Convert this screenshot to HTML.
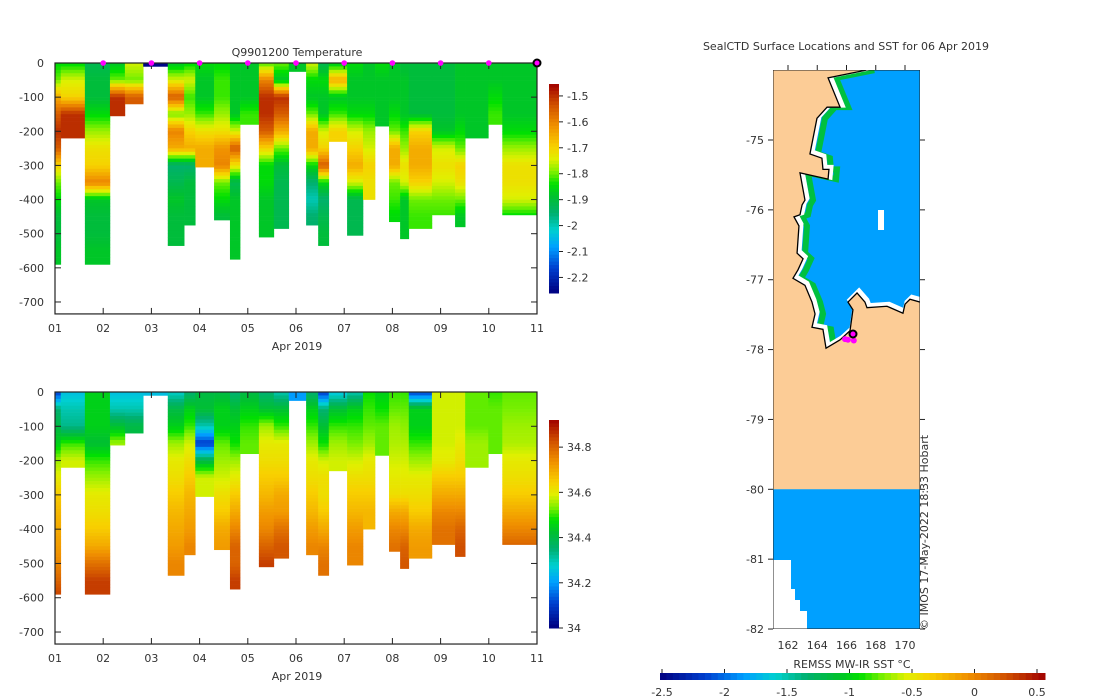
<!DOCTYPE html>
<html><head><meta charset="utf-8"><style>
body{margin:0;background:#fff;}
svg{display:block;font-family:"DejaVu Sans","Liberation Sans",sans-serif;}
text{fill:#333;font-size:11px;}
</style></head><body>
<svg id="chart" width="1100" height="700" viewBox="0 0 1100 700"></svg>
<script>
// ---- data ----
const edges=[1.00,1.12,1.62,2.14,2.45,2.83,3.34,3.68,3.91,4.30,4.63,4.84,5.23,5.54,5.85,6.21,6.46,6.68,7.06,7.39,7.64,7.93,8.16,8.34,8.82,9.30,9.51,9.99,10.28,11.0];
const maxDepth=[590,220,590,155,120,10,535,475,305,460,575,180,510,485,25,475,535,230,505,400,185,465,515,485,445,480,220,180,445];
const sampleDepths=[0,50,100,150,200,250,300,350,400,450,500,550,600];
const temps=[
[-1.85,-1.8,-1.65,-1.55,-1.5,-1.55,-1.7,-1.8,-1.85,-1.9,-1.9,-1.88,-1.88],
[-1.85,-1.75,-1.7,-1.5,-1.5],
[-1.92,-1.9,-1.9,-1.85,-1.78,-1.72,-1.7,-1.6,-1.88,-1.9,-1.9,-1.88,-1.88],
[-1.88,-1.8,-1.5,-1.5],
[-1.75,-1.8,-1.55],
[-2.25],
[-1.88,-1.75,-1.55,-1.8,-1.6,-1.65,-1.95,-1.92,-1.88,-1.9,-1.9],
[-1.85,-1.75,-1.82,-1.78,-1.7,-1.65,-1.95,-1.9,-1.9,-1.9],
[-1.85,-1.88,-1.88,-1.82,-1.72,-1.65,-1.65],
[-1.85,-1.82,-1.82,-1.78,-1.72,-1.62,-1.6,-1.8,-1.85,-1.9],
[-1.88,-1.88,-1.88,-1.88,-1.75,-1.55,-1.72,-1.92,-1.88,-1.88,-1.88,-1.88],
[-1.88,-1.88,-1.88,-1.82],
[-1.82,-1.6,-1.5,-1.5,-1.55,-1.7,-1.85,-1.85,-1.88,-1.88,-1.88],
[-1.8,-1.88,-1.5,-1.55,-1.65,-1.8,-1.9,-1.92,-1.92,-1.92],
[-1.88],
[-1.75,-1.85,-1.88,-1.8,-1.65,-1.65,-1.85,-1.95,-2.0,-1.95],
[-1.92,-1.85,-1.88,-1.88,-1.75,-1.7,-1.55,-1.85,-1.95,-1.92,-1.9],
[-1.88,-1.65,-1.88,-1.82,-1.7],
[-1.85,-1.88,-1.88,-1.85,-1.75,-1.7,-1.65,-1.75,-1.92,-1.92,-1.92],
[-1.88,-1.88,-1.88,-1.85,-1.78,-1.75,-1.7,-1.72,-1.72],
[-1.85,-1.88,-1.88,-1.88],
[-1.88,-1.88,-1.88,-1.85,-1.8,-1.65,-1.65,-1.8,-1.82,-1.85],
[-1.9,-1.88,-1.88,-1.88,-1.82,-1.78,-1.72,-1.75,-1.88,-1.88,-1.88],
[-1.9,-1.9,-1.9,-1.9,-1.7,-1.65,-1.65,-1.7,-1.8,-1.82],
[-1.9,-1.9,-1.9,-1.9,-1.88,-1.75,-1.72,-1.75,-1.8,-1.82],
[-1.88,-1.88,-1.88,-1.88,-1.85,-1.8,-1.7,-1.72,-1.8,-1.88],
[-1.88,-1.88,-1.88,-1.88,-1.88],
[-1.88,-1.88,-1.85,-1.82],
[-1.88,-1.88,-1.88,-1.88,-1.85,-1.78,-1.72,-1.72,-1.75,-1.85]];
const salts=[
[34.1,34.35,34.4,34.45,34.55,34.6,34.65,34.68,34.7,34.72,34.75,34.8,34.85],
[34.25,34.3,34.33,34.5,34.58],
[34.45,34.45,34.45,34.42,34.5,34.55,34.6,34.62,34.65,34.7,34.78,34.85,34.85],
[34.25,34.3,34.42,34.55],
[34.25,34.3,34.4],
[34.25],
[34.28,34.4,34.45,34.55,34.6,34.62,34.65,34.68,34.7,34.72,34.75],
[34.35,34.45,34.5,34.58,34.62,34.65,34.68,34.7,34.72,34.75],
[34.4,34.42,34.3,34.1,34.4,34.58,34.58],
[34.4,34.45,34.45,34.52,34.55,34.58,34.62,34.65,34.7,34.72],
[34.35,34.42,34.45,34.48,34.55,34.6,34.65,34.7,34.75,34.8,34.8,34.85],
[34.4,34.45,34.5,34.52],
[34.35,34.42,34.55,34.6,34.62,34.65,34.68,34.72,34.75,34.8,34.85],
[34.3,34.42,34.5,34.6,34.62,34.65,34.7,34.72,34.78,34.82],
[34.2],
[34.35,34.45,34.5,34.55,34.6,34.62,34.65,34.68,34.72,34.75],
[34.1,34.35,34.42,34.48,34.58,34.62,34.62,34.65,34.7,34.75,34.78],
[34.25,34.42,34.5,34.55,34.58],
[34.3,34.45,34.5,34.53,34.58,34.62,34.65,34.68,34.72,34.75,34.75],
[34.48,34.5,34.52,34.55,34.6,34.62,34.65,34.68,34.68],
[34.45,34.48,34.52,34.52],
[34.5,34.52,34.55,34.56,34.58,34.6,34.62,34.7,34.75,34.78],
[34.5,34.52,34.54,34.56,34.58,34.6,34.62,34.7,34.75,34.8,34.82],
[34.1,34.45,34.45,34.5,34.55,34.6,34.62,34.65,34.7,34.72],
[34.58,34.58,34.58,34.58,34.6,34.65,34.7,34.75,34.78,34.78],
[34.58,34.58,34.58,34.6,34.62,34.65,34.7,34.75,34.8,34.83],
[34.52,34.52,34.52,34.55,34.55],
[34.5,34.52,34.52,34.52],
[34.52,34.53,34.55,34.56,34.6,34.62,34.65,34.7,34.75,34.8]];
const markerDays=[2,3,4,5,6,7,8,9,10];
const dayTicks=["01","02","03","04","05","06","07","08","09","10","11"];
const depthTicks=[0,-100,-200,-300,-400,-500,-600,-700];
const tempTicks=[-1.5,-1.6,-1.7,-1.8,-1.9,-2,-2.1,-2.2];
const saltTicks=[34.8,34.6,34.4,34.2,34];
const latTicks=[-75,-76,-77,-78,-79,-80,-81,-82];
const lonTicks=[162,164,166,168,170];
const sstTicks=[-2.5,-2,-1.5,-1,-0.5,0,0.5];
// coastline (lon,lat)
const coast=[[167.35,-74.0],[164.74,-74.11],[165.56,-74.53],[164.67,-74.53],[163.98,-74.69],[163.5,-75.2],[164.32,-75.26],[164.39,-75.42],[164.8,-75.42],[164.74,-75.56],[162.82,-75.47],[163.16,-75.86],[162.96,-75.93],[162.82,-76.07],[162.41,-76.1],[162.75,-76.23],[162.62,-76.62],[163.03,-76.7],[162.68,-76.86],[162.34,-76.98],[163.16,-77.08],[163.64,-77.32],[163.85,-77.49],[163.64,-77.68],[164.39,-77.71],[164.6,-77.98],[165.56,-77.86],[166.24,-77.73],[166.44,-77.43],[166.1,-77.32],[166.72,-77.19],[167.26,-77.32],[167.4,-77.4],[168.77,-77.38],[169.86,-77.48],[170.0,-77.35],[170.34,-77.28],[171.03,-77.32]];
const ctdLons=[166.1,165.9,166.4,166.5];
const ctdLats=[-77.86,-77.85,-77.79,-77.87];

// ---- helpers ----
const svg=document.getElementById('chart');
const NS='http://www.w3.org/2000/svg';
function mk(tag,attrs,parent){const e=document.createElementNS(NS,tag);for(const k in attrs)e.setAttribute(k,attrs[k]);(parent||svg).appendChild(e);return e;}
const stops=[[0,[0,0,127]],[0.12,[0,64,208]],[0.22,[0,160,255]],[0.3,[0,208,208]],[0.38,[0,176,112]],[0.46,[0,192,48]],[0.52,[0,224,0]],[0.58,[128,240,0]],[0.64,[224,240,0]],[0.7,[248,208,0]],[0.8,[240,144,0]],[0.9,[208,80,0]],[1,[160,0,0]]];
function cmap(f){f=Math.max(0,Math.min(1,f));for(let i=1;i<stops.length;i++){if(f<=stops[i][0]){const a=stops[i-1],b=stops[i];const t=(f-a[0])/(b[0]-a[0]);const c=a[1].map((v,j)=>Math.round(v+(b[1][j]-v)*t));return `rgb(${c})`;}}return 'rgb(160,0,0)';}
function interp(arr,d){const i=d/50;const i0=Math.min(Math.floor(i),arr.length-1);const i1=Math.min(i0+1,arr.length-1);const t=i-i0;return arr[i0]+(arr[i1]-arr[i0])*Math.min(t,1);}
const X0=55,X1=537;
function xDay(d){return X0+(d-1)*(X1-X0)/10;}

function panel(name,top,pxPer100,vals,vmin,vmax,cbTop,cbBot,ticks,tickFmt){
  const g=mk('g',{});
  
  
  const yS=d=>top+d*pxPer100/100;
  const bot=yS(735);
  for(let p=0;p<maxDepth.length;p++){
    const xa=xDay(edges[p]),xb=xDay(edges[p+1]);
    for(let d=0;d<maxDepth[p];d+=10){
      const v=interp(vals[p],d+5);
      const r=mk('rect',{x:xa,y:yS(d),width:xb-xa+0.3,height:yS(Math.min(d+10,maxDepth[p]))-yS(d)+0.3,fill:cmap((v-vmin)/(vmax-vmin))},g);
      
      
    }
  }
  mk('rect',{x:X0,y:top,width:X1-X0,height:bot-top,fill:'none',stroke:'#222','stroke-width':1.2},g);
  depthTicks.forEach(t=>{const y=yS(-t);mk('line',{x1:X0,x2:X0+6,y1:y,y2:y,stroke:'#222'},g);mk('line',{x1:X1-6,x2:X1,y1:y,y2:y,stroke:'#222'},g);
    const tx=mk('text',{x:44,y:y+4,'text-anchor':'end'},g);tx.textContent=t;});
  dayTicks.forEach((t,i)=>{const x=xDay(i+1);mk('line',{x1:x,x2:x,y1:bot,y2:bot-6,stroke:'#222'},g);mk('line',{x1:x,x2:x,y1:top,y2:top+6,stroke:'#222'},g);
    const tx=mk('text',{x:x,y:bot+18,'text-anchor':'middle'},g);tx.textContent=t;});
  const xl=mk('text',{x:297,y:bot+36,'text-anchor':'middle'},g);xl.textContent='Apr 2019';
  
  const cb=mk('g',{},g);
  const n=60;for(let i=0;i<n;i++){mk('rect',{x:549,y:cbTop+(cbBot-cbTop)*i/n,width:10,height:(cbBot-cbTop)/n+0.5,fill:cmap(1-(i+0.5)/n)},cb);}
  ticks.forEach(t=>{const y=cbBot-(t-vmin)/(vmax-vmin)*(cbBot-cbTop);mk('line',{x1:559,x2:563,y1:y,y2:y,stroke:'#222'},cb);
    const tx=mk('text',{x:567,y:y+4},cb);tx.textContent=tickFmt(t);});
}
panel('temperature-panel',63,34.14,temps,-2.26,-1.454,84,293,tempTicks,t=>String(t));
panel('salinity-panel',392,34.29,salts,34.0,34.92,420,628,saltTicks,t=>String(t));
const ttl=mk('text',{x:297,y:56,'text-anchor':'middle'});ttl.textContent='Q9901200  Temperature';

markerDays.forEach(d=>{const c=mk('circle',{cx:xDay(d),cy:63,r:2.8,fill:'#ff00ff'});});
const lm=mk('circle',{cx:537,cy:63,r:3.5,fill:'#ff00ff',stroke:'#000','stroke-width':2});


// ---- map ----
const MX0=773,MX1=920,MY0=70,MY1=629;
const lonX=l=>788+(l-162)*14.625;
const latY=l=>140+(-75-l)*69.86;
const defs=mk('defs',{});
const cp=mk('clipPath',{id:'mapclip'},defs);mk('rect',{x:MX0,y:MY0,width:MX1-MX0,height:MY1-MY0},cp);
const mg=mk('g',{'clip-path':'url(#mapclip)'});
mk('rect',{x:MX0,y:MY0,width:MX1-MX0,height:MY1-MY0,fill:'#00a0ff'},mg);
const west=coast.slice(0,28);
mk('polyline',{points:west.map(p=>(lonX(p[0])+8)+','+latY(p[1])).join(' '),fill:'none',stroke:'#00c040','stroke-width':6},mg);
mk('polyline',{points:coast.map(p=>(lonX(p[0])+2)+','+(latY(p[1])-2)).join(' '),fill:'none',stroke:'#fff','stroke-width':5},mg);
const landPts=coast.map(p=>lonX(p[0])+','+latY(p[1])).concat([MX1+','+latY(-80),MX0+','+latY(-80),MX0+','+MY0]).join(' ');
const land=mk('polygon',{points:landPts,fill:'#fccc96'},mg);
mk('polyline',{points:coast.map(p=>lonX(p[0])+','+latY(p[1])).join(' '),fill:'none',stroke:'#000','stroke-width':1.3},mg);
[[MX0,560,18,69],[791,589,4,40],[795,600,5,29],[799,611,8,18],[878,210,6,20]].forEach(r=>mk('rect',{x:r[0],y:r[1],width:r[2],height:r[3],fill:'#fff'},mg));
mk('rect',{x:MX0,y:MY0,width:MX1-MX0,height:MY1-MY0,fill:'none',stroke:'#222','stroke-width':1},mg);
for(let i=0;i<ctdLons.length;i++){const c=mk('circle',{cx:lonX(ctdLons[i]),cy:latY(ctdLats[i]),r:3,fill:'#ff00ff'});}
mk('circle',{cx:853,cy:334,r:3.5,fill:'#ff00ff',stroke:'#000','stroke-width':2});
const ax=mk('g',{});
latTicks.forEach(t=>{const y=latY(t);mk('line',{x1:MX0,x2:MX0-5,y1:y,y2:y,stroke:'#222'},ax);mk('line',{x1:MX1,x2:MX1+5,y1:y,y2:y,stroke:'#222'},ax);
  const tx=mk('text',{x:764,y:y+4,'text-anchor':'end'},ax);tx.textContent=t;});
lonTicks.forEach(t=>{const x=lonX(t);mk('line',{x1:x,x2:x,y1:MY0,y2:MY0-5,stroke:'#222'},ax);
  const tx=mk('text',{x:x,y:649,'text-anchor':'middle'},ax);tx.textContent=t;});
const mt=mk('text',{x:846,y:50,'text-anchor':'middle'});mt.textContent='SealCTD Surface Locations and SST for 06 Apr 2019';

const cr=mk('text',{x:0,y:0,transform:'translate(928,630) rotate(-90)','font-size':'10'});cr.textContent='© IMOS 17-May-2022 18:33 Hobart';

const hb=mk('g',{});
const sx=v=>662+(v+2.5)*125;
for(let i=0;i<60;i++){mk('rect',{x:660+385*i/60,y:673,width:385/60+0.5,height:7,fill:cmap((i+0.5)/60)},hb);}
sstTicks.forEach(t=>{const x=sx(t);mk('line',{x1:x,x2:x,y1:673,y2:669,stroke:'#222'},hb);const tx=mk('text',{x:x,y:696,'text-anchor':'middle','font-size':'10'},hb);tx.textContent=t;});
const ct=mk('text',{x:852,y:668,'text-anchor':'middle'});ct.textContent='REMSS MW-IR SST °C';

</script>
</body></html>
